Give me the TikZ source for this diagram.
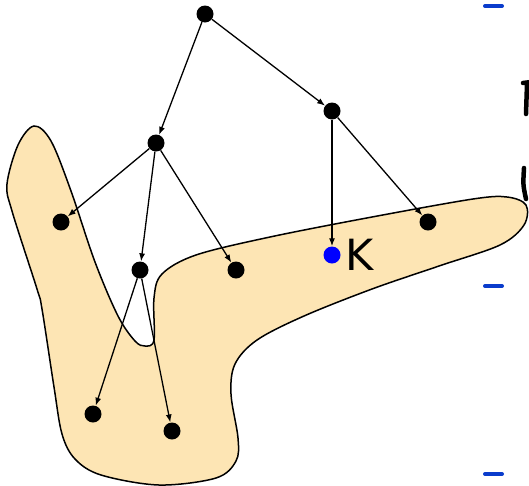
\documentclass[tikz,border=0pt]{standalone}
\usepackage{fontspec}
\newfontfamily\kfont{DejaVu Sans}
\usetikzlibrary{arrows.meta}
\definecolor{blobfill}{HTML}{FDE5B4}
\definecolor{dashblue}{HTML}{0A3CCC}
\tikzset{
  dot/.style={circle,fill=black,inner sep=0pt,minimum size=17pt},
  bluedot/.style={circle,fill=blue,inner sep=0pt,minimum size=17pt},
  arr/.style={line width=1.3pt,-{Latex[length=8pt,width=6pt]}},
  bdash/.style={dashblue,line width=4pt,line cap=round},
  glyph/.style={black,line width=4.5pt,line cap=round}
}
\begin{document}
\begin{tikzpicture}[x=1pt,y=-1pt]
\useasboundingbox (0,0) rectangle (529,485);
% blob
\draw[fill=blobfill,line width=1.5pt] plot[smooth cycle,tension=0.55] coordinates {
 (34,126) (18,145) (7,184) (12,211) (37,289) (42,309) (54,387) (62,434)
 (75,459) (101,475) (159,485) (216,478) (236,461) (238,438) (231,394)
 (235,364) (257,340) (304,316) (372,289) (439,266) (500,245) (524,225)
 (526,205) (507,197) (473,199) (372,217) (270,237) (196,255) (162,274)
 (154,298) (154,340) (145,346) (135,341) (118,316) (95,262) (71,191)
 (51,141)};
% nodes
\node[dot] (top) at (205,14) {};
\node[dot] (a) at (156,143) {};
\node[dot] (b) at (332,111) {};
\node[dot] (c) at (61,222) {};
\node[dot] (d) at (140,270) {};
\node[dot] (e) at (236,270) {};
\node[bluedot] (k) at (332,255) {};
\node[dot] (f) at (428,222) {};
\node[dot] (g) at (93,414) {};
\node[dot] (h) at (172,431) {};
\node[inner sep=0pt,font=\kfont\fontsize{43}{43}\selectfont] (klab) at (360,255) {K};
% edges
\draw[arr] (top) -- (a);
\draw[arr] (top) -- (b);
\draw[arr] (a) -- (c);
\draw[arr] (a) -- (d);
\draw[arr] (a) -- (e);
\draw[arr] (b) -- (k);
\draw[arr] (b) -- (f);
\draw[arr] (d) -- (g);
\draw[arr] (d) -- (h);
% slide bullets and cut-off glyphs at right edge
\coordinate (d1a) at (485,6); \coordinate (d1b) at (502,6);
\coordinate (d2a) at (485,286); \coordinate (d2b) at (502,286);
\coordinate (d3a) at (485,474); \coordinate (d3b) at (502,474);
\draw[bdash] (d1a) -- (d1b);
\draw[bdash] (d2a) -- (d2b);
\draw[bdash] (d3a) -- (d3b);
\coordinate (t1) at (523,83); \coordinate (t2) at (531,82);
\coordinate (t3) at (527,84); \coordinate (t4) at (526,114);
\draw[glyph] (t1) -- (t2);
\draw[glyph] (t3) -- (t4);
\coordinate (l1) at (524,168); \coordinate (l2) at (526,199);
\draw[glyph] (l1) .. controls (523,185) .. (l2);
\end{tikzpicture}
\end{document}
